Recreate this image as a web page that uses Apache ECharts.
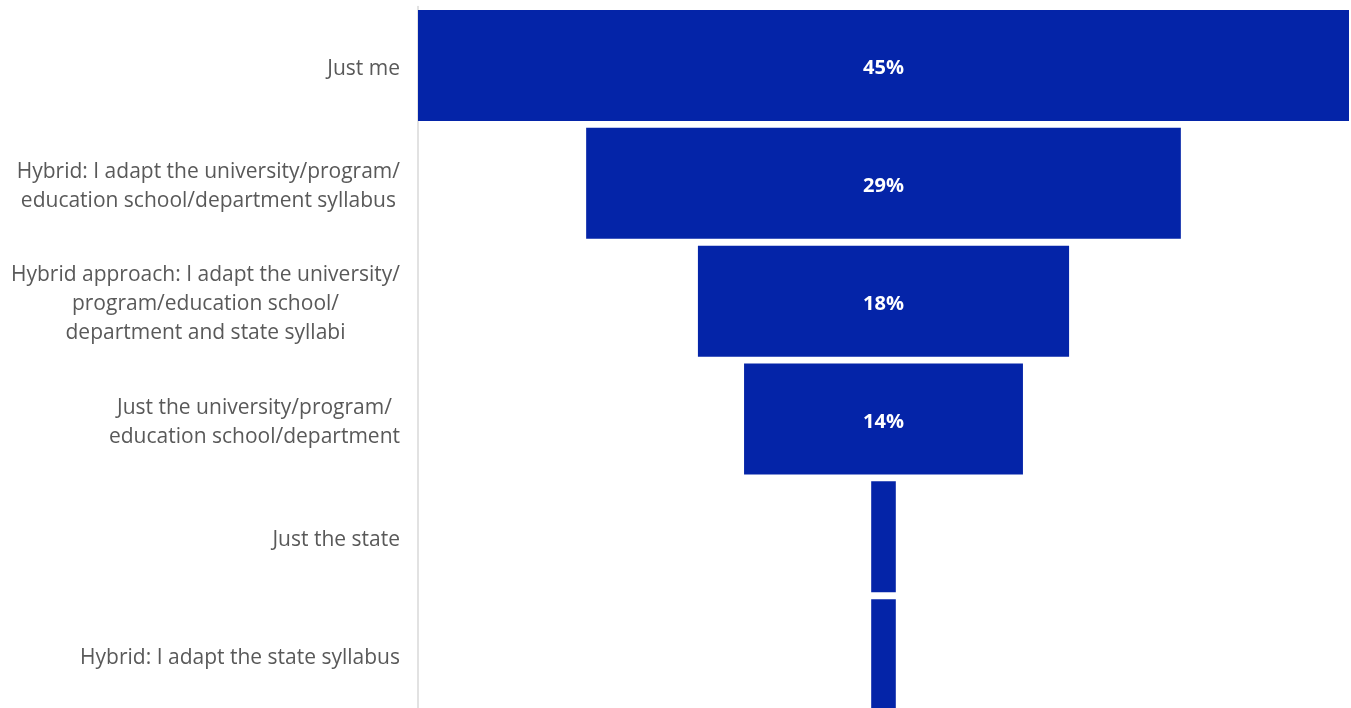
<!DOCTYPE html>
<html>
<head>
<meta charset="utf-8">
<script src="https://cdn.jsdelivr.net/npm/echarts@6/dist/echarts.min.js"></script>
<style>
html,body{margin:0;padding:0;background:#fff;overflow:hidden;width:1351px;height:708px;}
#chart{width:1351px;height:720px;}
</style>
</head>
<body>
<div id="chart"></div>
<script>
const categories = [
  "Just me",
  "Hybrid: I adapt the university/program/\neducation school/department syllabus",
  "Hybrid approach: I adapt the university/\nprogram/education school/\ndepartment and state syllabi",
  "Just the university/program/\neducation school/department",
  "Just the state",
  "Hybrid: I adapt the state syllabus"
];
const values = [45.4, 29.0, 18.1, 13.6, 1.2, 1.2];

const maxVal = Math.max(...values);
const offsets = values.map(v => (maxVal - v) / 2);

const chart = echarts.init(document.getElementById('chart'));
chart.setOption({
  animation: false,
  backgroundColor: '#ffffff',
  grid: { left: 418, right: 2, top: 6.6, height: 707, containLabel: false },
  xAxis: { type: 'value', min: 0, max: maxVal, show: false },
  yAxis: {
    type: 'category',
    data: categories,
    inverse: true,
    axisLine: { show: true, lineStyle: { color: '#d9d9d9', width: 1.5 } },
    axisTick: { show: false },
    axisLabel: {
      margin: 18,
      padding: [6, 0, 0, 0],
      formatter: v => v.split('\n').map(l => '{c|' + l + '}').join('\n'),
      rich: {
        c: { align: 'center', fontSize: 21, lineHeight: 29, color: '#595959', fontFamily: 'Open Sans' }
      }
    }
  },
  series: [
    {
      type: 'bar', stack: 'f', data: offsets, silent: true,
      itemStyle: { color: 'transparent' }, barCategoryGap: '5.8%'
    },
    {
      type: 'bar', stack: 'f', data: values, barCategoryGap: '5.8%',
      itemStyle: { color: '#0424A8' },
      label: {
        show: true, position: 'inside', color: '#ffffff', fontWeight: 'bold',
        fontSize: 20, fontFamily: 'Open Sans', offset: [0, 3],
        formatter: p => p.value >= 5 ? Math.round(p.value) + '%' : ''
      }
    }
  ]
});
</script>
</body>
</html>
